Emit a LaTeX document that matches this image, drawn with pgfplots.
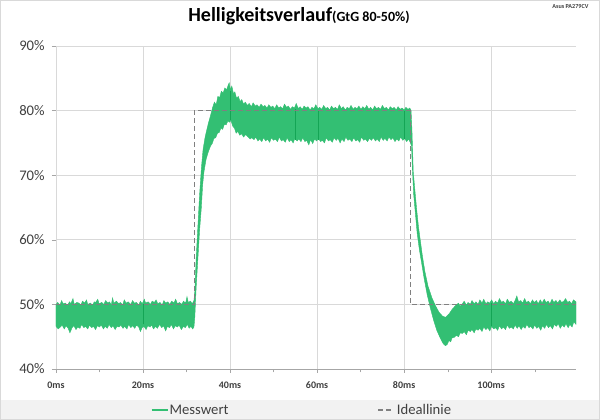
\documentclass[border=0pt]{standalone}
\usepackage{pgfplots}
\pgfplotsset{compat=1.18}
\usepackage{fontspec}
\setmainfont{Carlito}
\definecolor{mgreen}{RGB}{51,191,115}
\definecolor{dgreen}{RGB}{20,165,85}
\definecolor{gridc}{RGB}{217,217,217}
\definecolor{txtc}{RGB}{64,64,64}
\definecolor{legbg}{RGB}{242,242,242}
\definecolor{idealc}{RGB}{128,128,128}
\begin{document}
\begin{tikzpicture}
\fill[white] (-42pt,-38.25pt) rectangle (408pt,276.75pt);
\fill[legbg] (-42pt,-38.25pt) rectangle (408pt,-23.25pt);
\begin{axis}[
  at={(0,0)}, anchor=south west,
  scale only axis, width=390pt, height=242.25pt,
  xmin=0, xmax=119.5, ymin=40, ymax=90,
  axis x line*=bottom, axis y line*=left,
  x axis line style={draw=gray!70, -},
  y axis line style={draw=gridc, -},
  xtick={0,20,...,100}, minor xtick={10,30,...,110},
  ytick={40,50,...,90},
  grid=major, major grid style={draw=gridc, line width=0.6pt},
  tick align=outside,
  major tick length=3pt, minor tick length=2.5pt,
  tick style={draw=gray!70},
  /pgf/number format/assume math mode=true,
  xticklabel={\pgfmathprintnumber{\tick}ms},
  yticklabel={\pgfmathprintnumber{\tick}\%},
  xticklabel style={font=\fontsize{7.5}{9}\selectfont\bfseries, text=txtc, yshift=-3pt},
  yticklabel style={font=\fontsize{11}{13}\selectfont, text=txtc, xshift=-2pt},
  clip=true,
]
% measured band: upper envelope forward, lower envelope backward
\addplot[fill=mgreen, draw=mgreen, line width=0.3pt] coordinates {
(0,50.0) (0.4,50.3) (0.9,49.9) (1.3,50.6) (1.6,50.1) (2.2,50.2) (2.6,49.8) (3.1,50.4) (3.4,50.1) (3.9,50.9) (4.2,50.0) (4.8,50.3)
(5.3,50.2) (5.7,49.9) (6.1,50.5) (6.6,50.2) (7.0,50.7) (7.3,50.0) (7.9,50.2) (8.4,49.9) (8.8,50.4) (9.1,50.3) (9.6,50.8) (9.9,50.1)
(10.5,50.3) (11.0,50.0) (11.4,50.6) (11.9,50.2) (12.3,50.4) (12.7,49.9) (13.0,51.0) (13.3,50.2) (13.9,50.5) (14.4,50.1) (14.8,50.3)
(15.3,49.9) (15.7,50.7) (16.1,50.2) (16.6,50.4) (17.2,50.0) (17.6,50.6) (18.0,50.2) (18.5,50.3) (19.0,49.9) (19.4,50.5) (19.8,50.1)
(20.3,50.8) (20.6,50.2) (21.2,50.4) (21.7,50.0) (22.1,50.5) (22.6,50.3) (23.0,50.7) (23.4,50.1) (23.9,50.3) (24.4,49.9) (24.8,50.6)
(25.2,50.2) (25.7,50.4) (26.1,50.0) (26.6,50.5) (27.1,50.2) (27.5,50.8) (27.9,50.1) (28.4,50.3) (28.9,50.0) (29.3,50.5) (29.8,50.2)
(30.1,51.2) (30.4,50.3) (30.9,50.5) (31.3,50.1) (31.7,50.6)
(31.9,52) (32.2,57) (32.6,62) (33.0,67) (33.4,71) (33.8,74) (34.3,76) (35,78) (35.5,79.2)
(36,80.5) (36.4,81.3) (36.8,80.9) (37.2,82.2) (37.6,82.0) (38.0,83.0) (38.4,82.7) (38.8,83.5) (39.2,83.2) (39.6,84.0) (39.8,84.3)
(40.1,83.2) (40.4,83.8) (40.8,82.6) (41.1,82.9) (41.5,81.9) (41.9,82.2) (42.3,81.4) (42.7,81.7) (43.1,81.0) (43.5,81.3)
(44,80.8) (44.4,81.1) (44.9,80.6) (45.3,81.2) (45.8,80.7) (46.2,80.9) (46.7,80.5) (47.1,81.0) (47.6,80.6) (48.0,80.8) (48.5,80.4)
(48.9,80.9) (49.4,80.5) (49.8,80.7) (50.3,80.3) (50.7,80.9) (51.2,80.4) (51.6,80.6) (52.1,80.3) (52.5,81.0) (53.0,80.5) (53.4,80.7)
(53.9,80.2) (54.3,80.6) (54.8,80.4) (55.2,81.1) (55.7,80.3) (56.1,80.6) (56.6,80.2) (57.0,80.7) (57.5,80.4) (57.9,80.6) (58.4,80.1)
(58.8,80.5) (59.3,80.3) (59.7,80.9) (60.2,80.3) (60.6,80.5) (61.1,80.2) (61.5,80.8) (62.0,80.3) (62.4,80.5) (62.9,80.1) (63.3,80.7)
(63.8,80.3) (64.2,80.5) (64.7,80.2) (65.1,80.9) (65.6,80.3) (66.0,80.6) (66.5,80.1) (66.9,80.5) (67.4,80.3) (67.8,80.8) (68.3,80.2)
(68.7,80.5) (69.2,80.3) (69.6,80.7) (70.1,80.2) (70.5,80.6) (71.0,80.3) (71.4,80.8) (71.9,80.2) (72.3,80.5) (72.8,80.1) (73.2,80.7)
(73.7,80.3) (74.1,80.5) (74.6,80.2) (75.0,80.8) (75.5,80.3) (75.9,80.5) (76.4,80.1) (76.8,80.6) (77.3,80.3) (77.7,80.5) (78.2,80.1)
(78.6,80.6) (79.1,80.2) (79.5,80.4) (80.0,80.1) (80.4,80.5) (80.9,80.2) (81.3,80.4) (81.6,80.0)
(81.8,77) (82.1,70.5) (82.5,67.5) (82.9,64.6) (83.3,62) (83.7,60) (84.2,57.5) (84.8,55) (85.5,52.8) (86.4,51) (87.2,49.8)
(88,48.8) (88.8,48.2) (89.5,48.0) (90.3,48.5) (91,49.2) (91.8,49.8)
(92.5,50.2) (92.9,49.7) (93.4,50.1) (93.8,50.5) (94.3,49.9) (94.7,50.3) (95.2,50.0) (95.6,50.6) (96.1,50.1) (96.5,50.4) (97.0,50.0)
(97.4,50.7) (97.9,50.2) (98.3,50.8) (98.8,50.1) (99.2,50.4) (99.7,50.2) (100.1,50.7) (100.6,50.1) (101.0,50.5) (101.5,50.2) (101.9,50.9)
(102.4,50.3) (102.8,50.5) (103.3,50.1) (103.7,50.8) (104.2,50.3) (104.6,50.5) (105.1,50.1) (105.5,50.6) (105.9,51.3) (106.3,50.4)
(106.8,50.6) (107.2,50.2) (107.7,50.9) (108.1,50.3) (108.6,50.5) (109.0,50.1) (109.5,50.7) (109.9,50.3) (110.4,50.6) (110.8,50.1)
(111.3,50.7) (111.7,50.2) (112.2,50.8) (112.6,50.3) (113.1,50.5) (113.5,50.1) (114.0,50.8) (114.4,50.3) (114.9,50.6) (115.3,50.2)
(115.8,50.7) (116.2,50.3) (116.7,50.5) (117.1,50.9) (117.6,50.3) (118.0,50.5) (118.5,50.1) (118.9,50.7) (119.5,50.4)
(119.5,46.9) (119.0,47.3) (118.6,46.5) (118.1,46.9) (117.7,46.4) (117.2,47.0) (116.8,46.5) (116.3,46.8) (115.9,46.3) (115.4,47.0)
(115.0,46.6) (114.5,46.9) (114.1,46.2) (113.6,46.7) (113.2,46.4) (112.7,46.9) (112.3,46.3) (111.8,46.7) (111.4,46.0) (110.9,46.6)
(110.5,46.3) (110.0,46.8) (109.6,46.2) (109.1,46.6) (108.7,46.4) (108.2,46.9) (107.8,46.3) (107.3,46.6) (106.9,46.1) (106.4,46.7)
(106.0,46.3) (105.5,46.8) (105.1,46.2) (104.6,46.5) (104.2,46.3) (103.7,46.8) (103.3,46.1) (102.8,46.5) (102.4,46.2) (101.9,46.7)
(101.5,46.0) (101.0,46.4) (100.6,46.2) (100.1,46.6) (99.7,45.9) (99.2,46.4) (98.8,46.1) (98.3,46.5) (97.9,45.8) (97.4,46.3)
(97.0,46.0) (96.5,46.2) (96.1,45.6) (95.6,46.1) (95.2,45.8) (94.7,46.0) (94.3,45.3) (93.8,45.8) (93.4,45.5) (92.9,45.6) (92.5,45.0)
(92.0,45.2) (91.5,44.9) (91.0,44.8) (90.7,44.2) (90.3,44.4) (89.9,43.8) (89.5,43.6) (89,43.9) (88.3,44.8) (87.5,46) (86.8,47.5)
(86,49.5) (85.3,51.5) (84.6,54) (84,56.5) (83.5,58.5) (83,61) (82.6,64) (82.2,67) (81.9,71) (81.7,74.5)
(81.4,75.1) (81.0,75.6) (80.6,75.2) (80.1,75.7) (79.7,75.4) (79.2,75.9) (78.8,75.3) (78.3,75.6) (77.9,75.2) (77.4,75.8) (77.0,75.5)
(76.5,75.9) (76.1,75.3) (75.6,75.7) (75.2,75.4) (74.7,75.9) (74.3,75.2) (73.8,75.6) (73.4,75.3) (72.9,75.8) (72.5,75.4) (72.0,75.7)
(71.6,75.2) (71.1,75.6) (70.7,75.4) (70.2,75.9) (69.8,75.1) (69.3,75.5) (68.9,75.3) (68.4,75.8) (68.0,75.2) (67.5,75.6) (67.1,75.4)
(66.6,75.9) (66.2,75.2) (65.7,75.6) (65.3,75.0) (64.8,75.7) (64.4,75.4) (63.9,75.8) (63.5,75.1) (63.0,75.5) (62.6,75.3) (62.1,75.8)
(61.7,75.0) (61.2,75.4) (60.8,75.2) (60.3,75.7) (59.9,75.3) (59.4,75.6) (59.0,74.9) (58.5,75.5) (58.1,74.7) (57.6,75.4) (57.2,75.2)
(56.7,75.8) (56.3,75.2) (55.8,75.6) (55.4,75.3) (54.9,75.7) (54.5,75.0) (54.0,75.5) (53.6,75.2) (53.1,75.8) (52.7,75.1) (52.2,75.5)
(51.8,75.3) (51.3,75.9) (50.9,75.2) (50.4,75.6) (50.0,75.4) (49.5,75.8) (49.1,75.1) (48.6,75.6) (48.2,75.3) (47.7,75.8) (47.3,75.2)
(46.8,75.6) (46.4,75.3) (45.9,75.9) (45.5,75.5) (45.0,75.8) (44.6,75.6)
(44.0,76.0) (43.6,76.3) (43.1,75.9) (42.7,76.4) (42.2,76.2) (41.8,76.8) (41.4,76.5) (41.0,77.3) (40.6,77.6) (40.2,78.5) (39.9,78.2)
(39.5,78.4) (39.1,77.8) (38.7,77.9) (38.3,77.1) (37.9,77.3) (37.5,76.6) (37.1,76.5) (36.7,75.8) (36.3,75.7) (35.9,74.9) (35.5,74.5)
(35,73.6) (34.5,72.5) (34,70.5) (33.7,68.5) (33.4,65) (33,61.5) (32.6,57) (32.2,52.5) (31.9,48) (31.7,46.5)
(31.4,46.2) (31.0,46.6) (30.6,46.3) (30.2,46.9) (29.7,46.4) (29.3,46.6) (28.8,46.1) (28.3,46.8) (27.9,46.5) (27.4,46.7) (27.0,46.2)
(26.5,46.9) (26.1,46.4) (25.6,46.6) (25.2,45.9) (24.7,46.7) (24.3,46.4) (23.8,46.9) (23.3,46.3) (22.9,46.6) (22.4,46.2) (22.0,46.8)
(21.6,46.5) (21.1,46.7) (20.7,46.1) (20.2,46.6) (19.8,46.4) (19.4,45.8) (19.0,46.5) (18.5,46.8) (18.1,46.3) (17.6,46.7) (17.2,46.4)
(16.7,46.9) (16.3,46.2) (15.8,46.6) (15.4,46.3) (14.9,46.8) (14.5,46.5) (14.0,46.6) (13.6,46.1) (13.1,46.7) (12.7,46.4) (12.2,46.9)
(11.8,46.3) (11.3,46.6) (10.9,46.2) (10.4,46.8) (10.0,46.5) (9.5,46.7) (9.1,46.1) (8.6,46.6) (8.2,46.4) (7.7,46.8) (7.3,46.2)
(6.8,46.6) (6.4,46.4) (5.9,46.9) (5.5,46.3) (5.0,46.5) (4.6,46.1) (4.1,46.7) (3.7,46.4) (3.2,45.6) (2.8,46.3) (2.3,46.7)
(1.9,46.2) (1.4,46.8) (1.0,46.5) (0.5,46.2) (0,46.6)
} -- cycle;
% darker streaks inside the band
\addplot[dgreen, line width=0.6pt] coordinates {(20,46.9) (20,50.0)};
\addplot[dgreen, line width=0.6pt] coordinates {(40,78.6) (40,83.0)};
\addplot[dgreen, line width=0.6pt] coordinates {(55,75.5) (55,80.2)};
\addplot[dgreen, line width=0.6pt] coordinates {(60.2,75.5) (60.2,80.0)};
\addplot[dgreen, line width=0.6pt] coordinates {(80,75.6) (80,80.0)};
\addplot[dgreen, line width=0.6pt] coordinates {(100,46.6) (100,50.2)};
% ideal line
\addplot[draw=idealc, line width=1pt, dash pattern=on 3.5pt off 2.5pt] coordinates {
(0,50) (31.8,50) (31.8,80) (81.5,80) (81.5,50) (119.5,50)};
\end{axis}
% legend
\draw[mgreen, line width=1.4pt] (71.8pt,-30.75pt) -- (84.2pt,-30.75pt);
\node[anchor=base west, inner sep=0pt, text=txtc, font=\fontsize{11}{13}\selectfont] at (85pt,-34pt) {Messwert};
\draw[idealc, line width=1pt, dash pattern=on 3.5pt off 2.5pt] (241.5pt,-30.75pt) -- (253pt,-30.75pt);
\node[anchor=base west, inner sep=0pt, text=txtc, font=\fontsize{11}{13}\selectfont] at (255.5pt,-34pt) {Ideallinie};
% titles
\node[anchor=base, inner sep=0pt] at (182.25pt,260.5pt)
  {\fontsize{15}{18}\selectfont\bfseries Helligkeitsverlauf\fontsize{10.5}{12}\selectfont(GtG 80-50\%)};
\node[anchor=east, inner sep=0pt, text=txtc] at (399.5pt,271.9pt)
  {\fontsize{4.6}{5}\selectfont\bfseries Asus PA279CV};
\draw[gridc, line width=0.5pt] (-41.75pt,-38pt) rectangle (407.75pt,276.5pt);
\path[use as bounding box] (-42pt,-38.25pt) rectangle (408pt,276.75pt);
\end{tikzpicture}
\end{document}
